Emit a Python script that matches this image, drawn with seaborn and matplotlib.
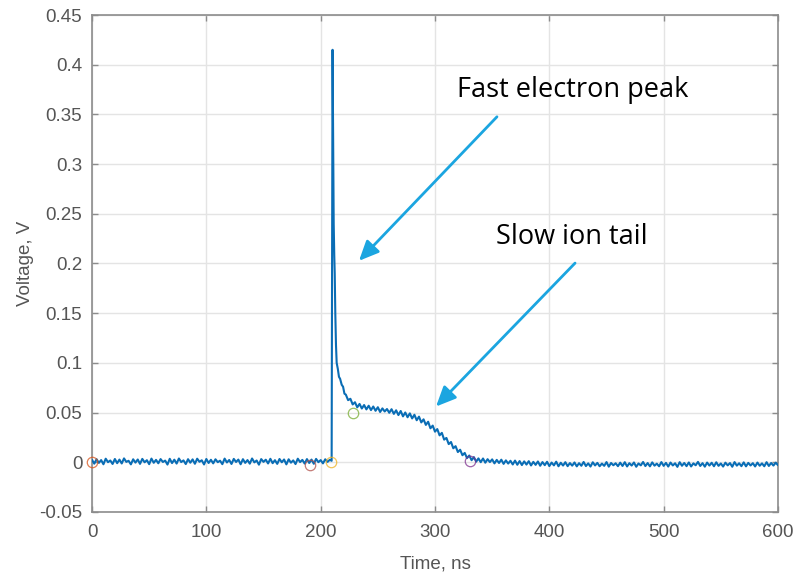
import numpy as np
import pandas as pd
import matplotlib
matplotlib.use("Agg")
import matplotlib.pyplot as plt
import seaborn as sns

# ---------------- data (voltages in mV, times in ns) ----------------
# baseline before the pulse, sampled every 2 ns from 0 ns
baseline_start = 0.0
baseline_mv = [
    2.5, -1.4, 3.1, -0.6, 2.2, -2.0, 3.6, 0.1, 1.8, -1.7, 3.3, -0.9, 2.7, -1.2, 3.9, 0.4, 1.5, -2.1, 3.0, -0.3,
    2.8, -1.6, 3.4, 0.0, 2.1, -1.9, 3.7, -0.5, 2.4, -1.0, 3.2, 0.3, 1.7, -2.3, 3.5, -0.8, 2.6, -1.3, 3.8, 0.2,
    1.9, -1.8, 3.1, -0.4, 2.9, -1.5, 3.6, 0.5, 2.0, -2.2, 3.3, -0.7, 2.5, -1.1, 3.0, 0.1, 1.6, -1.9, 3.7, -0.2,
    2.3, -1.7, 3.4, 0.3, 2.7, -2.0, 3.1, -0.6, 2.2, -1.4, 3.8, -0.1, 1.8, -2.4, 3.2, 0.4, 2.6, -1.2, 3.5, -0.9,
    2.1, -1.6, 3.3, 0.0, 2.8, -2.1, 3.0, -0.4, 1.9, -1.8, 3.6, 0.2, 2.4, -1.3, 3.2, -0.7, 2.7, -1.5, 3.4, 0.1,
    2.2, -1.1, 3.0, 0.4, 2.5,
]
# fast electron peak, sampled irregularly
peak_t = [209.6, 210.0, 210.4, 210.9, 211.4, 211.9, 212.3, 212.8, 213.4, 214.0,
          215.0, 216.0, 217.0, 218.4, 219.6, 220.8]
peak_mv = [1.5, 200.0, 415.0, 330.0, 240.0, 208.0, 190.0, 150.0, 118.0, 100.0,
           94.0, 86.0, 84.0, 78.0, 76.0, 69.0]
# slow ion tail and after, sampled every 2 ns from 222 ns
tail_start = 222.0
tail_mv = [
    68.1, 62.5, 63.9, 58.2, 60.4, 55.3, 58.7, 54.1, 57.6, 53.2, 56.9, 52.5, 56.1, 51.8, 55.4, 50.6, 54.2, 51.1, 53.6, 49.8,
    53.4, 48.7, 52.3, 47.5, 51.6, 46.2, 50.1, 45.3, 49.2, 44.1, 47.8, 42.3, 45.9, 40.1, 43.2, 37.6, 40.8, 34.2, 36.9, 30.8,
    33.4, 27.1, 29.6, 22.8, 24.5, 18.3, 20.4, 14.1, 16.2, 10.3, 12.6, 7.1, 9.4, 4.2, 6.8, 2.1, 5.2, 0.6, 3.9, 0.1,
    3.8, -0.4, 3.1, 0.2, 2.9, -1.1, 2.4, -0.7, 2.6, -1.6, 1.9, -1.3, 1.5, -2.2, 1.7, -2.5, 1.2, -2.8, 0.9, -2.3,
    1.1, -3.2, 0.4, -2.6, 0.8, -3.5, 0.2, -2.9, 0.5, -3.8, -0.3, -3.1, 0.6, -4.0, -0.5, -3.3, 0.1, -3.9, -0.8, -3.4,
    -0.2, -4.1, -0.9, -3.5, 0.3, -3.8, -1.1, -4.3, 0.0, -3.2, -0.6, -4.0, -1.3, -3.6, 0.2, -4.4, -0.7, -3.0, -1.0, -3.9,
    -0.4, -3.7, 0.1, -4.2, -0.9, -3.3, -0.2, -4.5, -1.2, -3.1, 0.3, -3.8, -0.8, -4.1, -0.1, -3.4, -1.4, -4.0, 0.2, -3.6,
    -0.6, -4.3, -0.3, -3.2, -1.0, -4.6, 0.1, -3.5, -0.7, -3.9, -0.2, -4.2, -1.1, -3.0, 0.4, -3.7, -0.9, -4.4, -0.3, -3.3,
    -0.5, -4.0, 0.0, -3.6, -1.2, -4.3, -0.4, -3.1, -0.8, -4.5, 0.2, -3.4, -1.0, -3.9, -0.1, -4.1, -0.6, -3.2, -0.9, -4.2,
    -0.3, -3.5, -1.1, -4.0, 0.1, -3.7, -0.7, -3.3, -0.4, -2.9,
]
sample_step = 2.0

# circle markers (time ns, voltage V)
marker_t = [0.0, 190.7, 209.3, 228.6, 330.6]
marker_v = [0.0, -0.0025, 0.0, 0.0495, 0.001]
marker_colors = ["#D95319", "#B0504A", "#EDB120", "#77AC30", "#7E2F8E"]

# annotations (time ns, voltage V)
texts = ["Fast electron peak", "Slow ion tail"]
text_pos = [(319.0, 0.3672), (353.1, 0.2198)]
arrow_tail = [(354.2, 0.3476), (422.5, 0.2004)]
arrow_tip = [(233.5, 0.2027), (300.9, 0.0561)]

x_ticks = [0, 100, 200, 300, 400, 500, 600]
y_ticks = [-0.05, 0, 0.05, 0.1, 0.15, 0.2, 0.25, 0.3, 0.35, 0.4, 0.45]
y_tick_labels = ["-0.05", "0", "0.05", "0.1", "0.15", "0.2", "0.25", "0.3", "0.35", "0.4", "0.45"]

# ---------------- build table ----------------
t_base = baseline_start + sample_step * np.arange(len(baseline_mv))
t_tail = tail_start + sample_step * np.arange(len(tail_mv))
time = np.concatenate([t_base, np.array(peak_t), t_tail])
volt = np.concatenate([baseline_mv, peak_mv, tail_mv]) / 1000.0
df = pd.DataFrame({"Time, ns": time, "Voltage, V": volt})

# ---------------- plot ----------------
sns.set_theme(style="white")
plt.rcParams["font.family"] = ["Liberation Sans", "DejaVu Sans"]

fig = plt.figure(figsize=(8.0, 5.73), dpi=100)
ax = fig.add_axes([0.115, 0.1065, 0.8575, 0.8673])

sns.lineplot(data=df, x="Time, ns", y="Voltage, V", ax=ax, color="#0A6DB5",
             linewidth=1.5, estimator=None, sort=False, zorder=3)

for mt, mv, mc in zip(marker_t, marker_v, marker_colors):
    ax.plot([mt], [mv], marker="o", markersize=7.5, markerfacecolor="none",
            markeredgecolor=mc, markeredgewidth=0.9, alpha=0.75,
            linestyle="none", zorder=4, clip_on=False)

ax.set_xlim(0, 600)
ax.set_ylim(-0.05, 0.45)
ax.set_xticks(x_ticks)
ax.set_xticklabels([str(v) for v in x_ticks])
ax.set_yticks(y_ticks)
ax.set_yticklabels(y_tick_labels)

label_color = "#555555"
ax.set_xlabel("Time, ns", fontsize=13.5, color=label_color, labelpad=10)
ax.set_ylabel("Voltage, V", fontsize=13.5, color=label_color, labelpad=4)

ax.grid(True, color="#e4e4e4", linewidth=1.0)
ax.set_axisbelow(True)
for s in ax.spines.values():
    s.set_visible(True)
    s.set_color("#8c8c8c")
    s.set_linewidth(1.2)
ax.tick_params(axis="both", which="both", direction="in", length=4, width=1.0,
               color="#8c8c8c", labelsize=13.5, labelcolor=label_color,
               top=True, right=True, bottom=True, left=True, pad=7)
ax.tick_params(axis="x", pad=9)

arrow_color = "#1BA5E0"
for tail, tip in zip(arrow_tail, arrow_tip):
    ax.annotate("", xy=tip, xytext=tail, xycoords="data", textcoords="data",
                arrowprops=dict(arrowstyle="-|>,head_length=1.0,head_width=0.45",
                                mutation_scale=12, color=arrow_color, lw=2.0,
                                shrinkA=0, shrinkB=0), zorder=5)
for txt, pos in zip(texts, text_pos):
    ax.text(pos[0], pos[1], txt, fontsize=19.5, color="black", family=["Open Sans", "DejaVu Sans"],
            ha="left", va="baseline", zorder=6)

fig.savefig("out.png", dpi=100)
